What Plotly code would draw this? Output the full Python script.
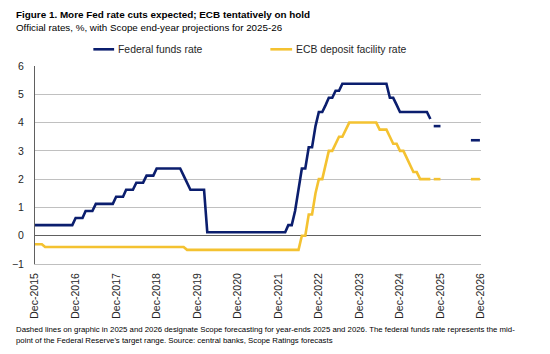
import pandas as pd
import plotly.graph_objects as go

# ---------------- data (monthly, end of month, from Dec 2015) ----------------
start_month = "2015-12-01"

fed_funds = [
    0.375,                                                                  # Dec 2015
    0.375, 0.375, 0.375, 0.375, 0.375, 0.375, 0.375, 0.375, 0.375, 0.375, 0.375, 0.625,  # 2016
    0.625, 0.625, 0.875, 0.875, 0.875, 1.125, 1.125, 1.125, 1.125, 1.125, 1.125, 1.375,  # 2017
    1.375, 1.375, 1.625, 1.625, 1.625, 1.875, 1.875, 1.875, 2.125, 2.125, 2.125, 2.375,  # 2018
    2.375, 2.375, 2.375, 2.375, 2.375, 2.375, 2.375, 2.125, 1.875, 1.625, 1.625, 1.625,  # 2019
    1.625, 1.625, 0.125, 0.125, 0.125, 0.125, 0.125, 0.125, 0.125, 0.125, 0.125, 0.125,  # 2020
    0.125, 0.125, 0.125, 0.125, 0.125, 0.125, 0.125, 0.125, 0.125, 0.125, 0.125, 0.125,  # 2021
    0.125, 0.125, 0.375, 0.375, 0.875, 1.625, 2.375, 2.375, 3.125, 3.125, 3.875, 4.375,  # 2022
    4.375, 4.625, 4.875, 4.875, 5.125, 5.125, 5.375, 5.375, 5.375, 5.375, 5.375, 5.375,  # 2023
    5.375, 5.375, 5.375, 5.375, 5.375, 5.375, 5.375, 5.375, 4.875, 4.875, 4.625, 4.375,  # 2024
    4.375, 4.375, 4.375, 4.375, 4.375, 4.375, 4.375, 4.375, 4.125,                        # 2025
]

ecb_deposit = [
    -0.30,                                                                  # Dec 2015
    -0.30, -0.30, -0.40, -0.40, -0.40, -0.40, -0.40, -0.40, -0.40, -0.40, -0.40, -0.40,  # 2016
    -0.40, -0.40, -0.40, -0.40, -0.40, -0.40, -0.40, -0.40, -0.40, -0.40, -0.40, -0.40,  # 2017
    -0.40, -0.40, -0.40, -0.40, -0.40, -0.40, -0.40, -0.40, -0.40, -0.40, -0.40, -0.40,  # 2018
    -0.40, -0.40, -0.40, -0.40, -0.40, -0.40, -0.40, -0.40, -0.50, -0.50, -0.50, -0.50,  # 2019
    -0.50, -0.50, -0.50, -0.50, -0.50, -0.50, -0.50, -0.50, -0.50, -0.50, -0.50, -0.50,  # 2020
    -0.50, -0.50, -0.50, -0.50, -0.50, -0.50, -0.50, -0.50, -0.50, -0.50, -0.50, -0.50,  # 2021
    -0.50, -0.50, -0.50, -0.50, -0.50, -0.50, 0.00, 0.00, 0.75, 0.75, 1.50, 2.00,        # 2022
    2.00, 2.50, 3.00, 3.00, 3.25, 3.50, 3.50, 3.75, 4.00, 4.00, 4.00, 4.00,              # 2023
    4.00, 4.00, 4.00, 4.00, 4.00, 3.75, 3.75, 3.75, 3.50, 3.25, 3.25, 3.00,              # 2024
    3.00, 2.75, 2.50, 2.25, 2.25, 2.00, 2.00, 2.00, 2.00,                                # 2025
]

# Scope end-year projections (dashed)
fc_2025_dates = ["2025-10-01", "2025-12-01"]
fc_2026_dates = ["2026-09-01", "2026-12-01"]
fed_fc_2025 = [3.875, 3.875]
fed_fc_2026 = [3.375, 3.375]
ecb_fc_2025 = [2.00, 2.00]
ecb_fc_2026 = [2.00, 2.00]

tick_dates = ["2015-12-01", "2016-12-01", "2017-12-01", "2018-12-01", "2019-12-01",
              "2020-12-01", "2021-12-01", "2022-12-01", "2023-12-01", "2024-12-01",
              "2025-12-01", "2026-12-01"]
tick_labels = ["Dec-2015", "Dec-2016", "Dec-2017", "Dec-2018", "Dec-2019", "Dec-2020",
               "Dec-2021", "Dec-2022", "Dec-2023", "Dec-2024", "Dec-2025", "Dec-2026"]
y_ticks = [-1, 0, 1, 2, 3, 4, 5, 6]

series_names = ["Federal funds rate", "ECB deposit facility rate"]

# ---------------- styling ----------------
BLUE = "#0b1e6e"
YELLOW = "#f4c231"
FONT = "Liberation Sans, Arial, sans-serif"
LW = 2.6

months = pd.date_range(start_month, periods=len(fed_funds), freq="MS")

fig = go.Figure()
fig.add_trace(go.Scatter(x=months, y=fed_funds, mode="lines", name=series_names[0],
                         line=dict(color=BLUE, width=LW), showlegend=False))
fig.add_trace(go.Scatter(x=months, y=ecb_deposit, mode="lines", name=series_names[1],
                         line=dict(color=YELLOW, width=LW), showlegend=False))
for xs, ys, c in [(fc_2025_dates, fed_fc_2025, BLUE), (fc_2026_dates, fed_fc_2026, BLUE),
                  (fc_2025_dates, ecb_fc_2025, YELLOW), (fc_2026_dates, ecb_fc_2026, YELLOW)]:
    fig.add_trace(go.Scatter(x=xs, y=ys, mode="lines", showlegend=False,
                             line=dict(color=c, width=LW, dash="9px,6px")))

# plot area in pixels: x 30..481, y 66..264
L, R, T, B = 30, 481, 66, 264
W, H = R - L, B - T
def px(x):
    return (x - L) / W
def py(y):
    return (B - y) / H

fig.update_layout(
    width=550, height=354,
    margin=dict(l=L, r=550 - R, t=T, b=354 - B),
    paper_bgcolor="white", plot_bgcolor="white",
    font=dict(family=FONT, color="#262626", size=10),
    showlegend=False,
    xaxis=dict(type="date", range=[tick_dates[0], tick_dates[-1]],
               tickmode="array", tickvals=tick_dates, ticktext=tick_labels,
               tickangle=-90, showgrid=False, zeroline=False,
               showline=True, linecolor="#bfbfbf", linewidth=1,
               ticks="", tickfont=dict(size=10.5, color="#262626"),
               ticklabelstandoff=4),
    yaxis=dict(range=[-1, 6], tickmode="array", tickvals=y_ticks,
               showgrid=True, gridcolor="#c0c0c0", gridwidth=1,
               zeroline=True, zerolinecolor="#606060", zerolinewidth=1,
               showline=True, linecolor="#606060", linewidth=1,
               ticks="", tickfont=dict(size=10.5, color="#262626"),
               ticklabelstandoff=8),
)

# legend (drawn manually to match the compact keys)
fig.add_shape(type="line", xref="paper", yref="paper", x0=px(89), x1=px(110),
              y0=py(49.3), y1=py(49.3), line=dict(color=BLUE, width=LW))
fig.add_shape(type="line", xref="paper", yref="paper", x0=px(268), x1=px(290),
              y0=py(49.3), y1=py(49.3), line=dict(color=YELLOW, width=LW))

annotations = [
    dict(text="<b>Figure 1. More Fed rate cuts expected; ECB tentatively on hold</b>",
         x=px(9), y=py(14.3), font=dict(size=9.9, color="#000000")),
    dict(text="Official rates, %, with Scope end-year projections for 2025-26",
         x=px(9), y=py(27.5), font=dict(size=9.8, color="#000000")),
    dict(text=series_names[0], x=px(111.5), y=py(49.3), font=dict(size=10.4, color="#262626")),
    dict(text=series_names[1], x=px(291.5), y=py(49.3), font=dict(size=10.4, color="#262626")),
    dict(text="Dashed lines on graphic in 2025 and 2026 designate Scope forecasting for year-ends 2025 and 2026. "
              "The federal funds rate represents the mid-",
         x=px(9), y=py(329), font=dict(size=7.8, color="#000000")),
    dict(text="point of the Federal Reserve's target range. Source: central banks, Scope Ratings forecasts",
         x=px(9), y=py(340.5), font=dict(size=7.8, color="#000000")),
]
for a in annotations:
    fig.add_annotation(xref="paper", yref="paper", xanchor="left", yanchor="middle",
                       showarrow=False, align="left", **a)

fig.write_html("out.html")
